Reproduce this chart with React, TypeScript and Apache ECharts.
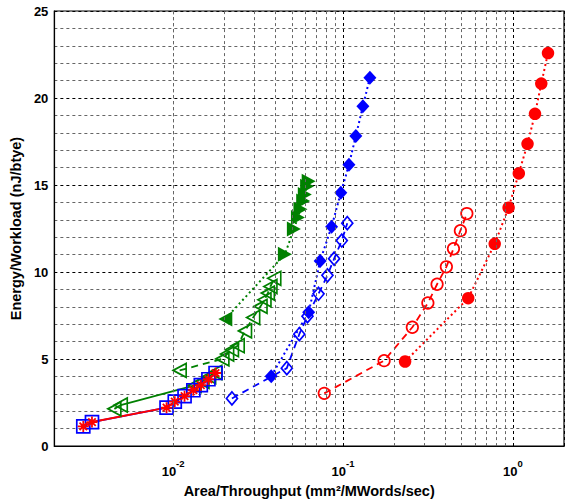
import React, { useEffect, useRef } from "react";
import * as echarts from "echarts";

// ---- data (x = Area/Throughput, y = Energy/Workload) ----
const blueSquares: number[][] = [
  [0.00296, 1.13], [0.00333, 1.38], [0.00915, 2.21], [0.01023, 2.55], [0.01168, 2.87],
  [0.01316, 3.21], [0.01456, 3.5], [0.01614, 3.84], [0.01778, 4.2],
];
const redStars: number[][] = [
  [0.00296, 1.13], [0.00333, 1.38], [0.00915, 2.21], [0.01023, 2.55], [0.01168, 2.87],
  [0.01316, 3.21], [0.01456, 3.5], [0.01614, 3.84], [0.01778, 4.2],
];
const greenSolid: number[][] = [
  [0.00451, 2.14], [0.00492, 2.36], [0.01339, 3.49], [0.01489, 3.72], [0.0163, 4.0], [0.0177, 4.23],
];
const greenHollow: number[][] = [
  [0.01093, 4.35], [0.0195, 5.01], [0.0208, 5.29], [0.0222, 5.54], [0.024, 5.77], [0.0265, 6.62],
  [0.0296, 7.39], [0.0327, 8.03], [0.0345, 8.41], [0.0361, 8.79], [0.0374, 9.17], [0.0394, 9.64],
];
const greenFilled: number[][] = [
  [0.0203, 7.31], [0.0455, 11.02], [0.0514, 12.47], [0.0543, 13.13], [0.0562, 13.61],
  [0.0583, 14.08], [0.0596, 14.46], [0.0615, 14.93], [0.0628, 15.22],
];
const blueHollow: number[][] = [
  [0.0222, 2.74], [0.0467, 4.48], [0.0553, 6.43], [0.0618, 7.46], [0.0718, 8.75],
  [0.081, 9.81], [0.0887, 10.77], [0.0984, 11.81], [0.106, 12.81],
];
const blueFilled: number[][] = [
  [0.0378, 4.02], [0.0628, 7.69], [0.0734, 10.64], [0.0857, 12.61], [0.0971, 14.55],
  [0.1084, 16.16], [0.119, 17.82], [0.131, 19.52], [0.144, 21.17],
];
const redHollow: number[][] = [
  [0.0776, 3.03], [0.1746, 4.91], [0.256, 6.83], [0.316, 8.22], [0.358, 9.3],
  [0.406, 10.3], [0.447, 11.34], [0.491, 12.38], [0.536, 13.36],
];
const redFilled: number[][] = [
  [0.232, 4.86], [0.546, 8.5], [0.782, 11.62], [0.944, 13.7], [1.084, 15.67],
  [1.22, 17.37], [1.35, 19.09], [1.47, 20.83], [1.61, 22.58],
];
const minorXGrid: number[] = [
  0.003, 0.004, 0.005, 0.006, 0.007, 0.008, 0.009,
  0.02, 0.03, 0.04, 0.05, 0.06, 0.07, 0.08, 0.09,
  0.2, 0.3, 0.4, 0.5, 0.6, 0.7, 0.8, 0.9,
];
const xMin = 0.002;
const xMax = 2;
const yMin = 0;
const yMax = 25;

const RED = "#ff0000";
const GREEN = "#008000";
const BLUE = "#0000ff";
const FONT = "Liberation Sans";
const ASTERISK = "path://M5,0 L5,10 M0,5 L10,5 M1.6,1.6 L8.4,8.4 M1.6,8.4 L8.4,1.6";

export default function App() {
  const ref = useRef<HTMLDivElement>(null);
  useEffect(() => {
    if (!ref.current) return;
    const chart = echarts.init(ref.current, undefined, { renderer: "svg" });
    const hollow = (c: string) => ({ color: "rgba(0,0,0,0)", borderColor: c, borderWidth: 1.7 });
    const option: any = {
      animation: false,
      backgroundColor: "#fff",
      grid: { left: 49, top: 11, width: 520, height: 441, show: true, borderColor: "#000", borderWidth: 1.2 },
      xAxis: {
        type: "log",
        logBase: 10,
        min: xMin,
        max: xMax,
        axisLine: { lineStyle: { color: "#000", width: 1.2 } },
        axisTick: { show: false },
        splitLine: { show: true, lineStyle: { color: "#000", type: [3, 3], width: 1 } },
        axisLabel: {
          margin: 12,
          formatter: (v: number) => {
            const e = Math.log10(v);
            if (Math.abs(e - Math.round(e)) > 1e-6) return "";
            return "{b|10}{s|" + Math.round(e) + "}";
          },
          rich: {
            b: { fontFamily: FONT, fontWeight: "bold", fontSize: 13, color: "#000", verticalAlign: "bottom", lineHeight: 20 },
            s: { fontFamily: FONT, fontWeight: "bold", fontSize: 9.5, color: "#000", verticalAlign: "top", lineHeight: 20 },
          },
        },
        name: "Area/Throughput (mm\u00b2/MWords/sec)",
        nameLocation: "middle",
        nameGap: 33,
        nameTextStyle: { fontFamily: FONT, fontWeight: "bold", fontSize: 14.5, color: "#000" },
      },
      yAxis: {
        type: "value",
        min: yMin,
        max: yMax,
        interval: 1,
        axisLine: { lineStyle: { color: "#000", width: 1.2 } },
        axisTick: { show: false },
        splitLine: {
          show: true,
          lineStyle: { color: ["#000", "#666", "#666", "#666", "#666"], type: [3, 3], width: 1 },
        },
        axisLabel: {
          margin: 6,
          fontFamily: FONT,
          fontWeight: "bold",
          fontSize: 13,
          color: "#000",
          formatter: (v: number) => (v % 5 === 0 ? String(v) : ""),
        },
        name: "Energy/Workload (nJ/btye)",
        nameLocation: "middle",
        nameGap: 30,
        nameTextStyle: { fontFamily: FONT, fontWeight: "bold", fontSize: 14.5, color: "#000" },
      },
      series: [
        {
          type: "line",
          data: [],
          z: 1,
          silent: true,
          markLine: {
            silent: true,
            symbol: ["none", "none"],
            label: { show: false },
            lineStyle: { color: "#666", type: [3, 3], width: 1 },
            data: minorXGrid.map((v) => ({ xAxis: v })),
          },
        },
        {
          type: "line", data: greenSolid, symbol: "triangle", symbolRotate: 90, symbolSize: [14, 13],
          itemStyle: hollow(GREEN), lineStyle: { color: GREEN, width: 1.8, type: "solid" },
        },
        {
          type: "line", data: greenHollow, symbol: "triangle", symbolRotate: 90, symbolSize: [14, 13],
          itemStyle: hollow(GREEN), lineStyle: { color: GREEN, width: 1.8, type: [7, 5] },
        },
        {
          type: "line",
          data: greenFilled.map((p, i) => ({ value: p, symbolRotate: i === 0 ? 90 : -90 })),
          symbol: "triangle", symbolSize: [15, 14],
          itemStyle: { color: GREEN }, lineStyle: { color: GREEN, width: 2, type: [2, 3] },
        },
        {
          type: "line", data: blueHollow, symbol: "diamond", symbolSize: [11, 13],
          itemStyle: hollow(BLUE), lineStyle: { color: BLUE, width: 1.8, type: [7, 5] },
        },
        {
          type: "line", data: blueFilled, symbol: "diamond", symbolSize: [13, 14],
          itemStyle: { color: BLUE }, lineStyle: { color: BLUE, width: 2, type: [2, 3] },
        },
        {
          type: "line", data: redHollow, symbol: "circle", symbolSize: 11.5,
          itemStyle: hollow(RED), lineStyle: { color: RED, width: 1.8, type: [7, 5] },
        },
        {
          type: "line", data: redFilled, symbol: "circle", symbolSize: 12.5,
          itemStyle: { color: RED }, lineStyle: { color: RED, width: 2, type: [2, 3] },
        },
        {
          type: "line", data: blueSquares, symbol: "rect", symbolSize: 13,
          itemStyle: hollow(BLUE), lineStyle: { color: BLUE, width: 1.8, type: "solid" },
        },
        {
          type: "line", data: redStars, symbol: ASTERISK, symbolSize: 11,
          itemStyle: { color: RED, borderColor: RED, borderWidth: 1.8 },
          lineStyle: { color: RED, width: 2, type: "solid" },
        },
      ],
    };
    chart.setOption(option);
    return () => chart.dispose();
  }, []);
  return (
    <div
      ref={ref}
      style={{ position: "fixed", left: 0, top: 0, width: 567, height: 503, background: "#fff" }}
    />
  );
}
